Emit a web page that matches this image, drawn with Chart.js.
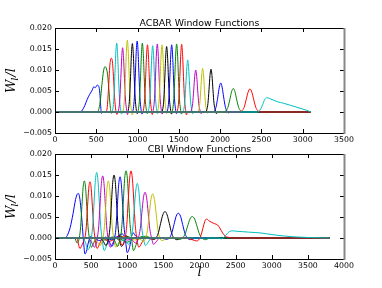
<!DOCTYPE html>
<html><head><meta charset="utf-8">
<script src="https://cdn.jsdelivr.net/npm/chart.js@4.4.0/dist/chart.umd.min.js"></script>
<style>
html,body{margin:0;padding:0;background:#fff;}
#wrap{position:relative;width:382px;height:288px;overflow:hidden;background:#fff;}
canvas{position:absolute;left:0;}
</style></head><body>
<div id="wrap">
<canvas id="top" width="382" height="144" style="top:0px"></canvas>
<canvas id="bot" width="382" height="148" style="top:140px"></canvas>
</div>
<script>
// ---------- data ----------
const lineColors = ['#0000ff','#008000','#ff0000','#00bfbf','#bf00bf','#bfbf00','#000000'];
const acbarTitle = 'ACBAR Window Functions';
const cbiTitle = 'CBI Window Functions';
const acbarXTicks = [0,500,1000,1500,2000,2500,3000,3500];
const cbiXTicks = [0,500,1000,1500,2000,2500,3000,3500,4000];
const yTickValues = [-0.005,0.000,0.005,0.010,0.015,0.020];
const yTickLabels = ['\u22120.005','0.000','0.005','0.010','0.015','0.020'];

// ACBAR window functions: [l, W_l/l] points
const acbarCurves = [
 [[0,0],[300,0],[330,.0004],[360,.0015],[390,.003],[420,.0042],[450,.0052],[470,.006],[490,.0058],[510,.0064],[530,.0061],[543,.0045],[553,.0015],[562,-.0003],[580,0],[3100,0]],
 [[0,0],[510,0],[528,.0005],[548,.0025],[568,.0065],[588,.0098],[605,.0108],[620,.0105],[636,.009],[652,.0055],[668,.0015],[682,-.0003],[700,0],[3100,0]],
 [[0,0],[615,0],[632,.001],[648,.0055],[664,.011],[680,.0128],[694,.0122],[708,.0085],[722,.0035],[736,.0004],[750,-.0006],[765,0],[3100,0]],
 [[0,0],[687,0],[701,.0008],[713,.0033],[725,.0085],[736,.0139],[747,.0164],[758,.0139],[769,.0085],[781,.0033],[793,.0008],[805,-.0005],[819,0],[3100,0]],
 [[0,0],[759,0],[773,.0008],[785,.0031],[797,.008],[808,.013],[819,.0153],[830,.013],[841,.008],[853,.0031],[865,.0008],[877,-.0006],[891,0],[3100,0]],
 [[0,0],[816,0],[830,.0009],[842,.0034],[854,.0089],[865,.0145],[876,.0171],[887,.0145],[898,.0089],[910,.0034],[922,.0009],[934,-.0007],[948,0],[3100,0]],
 [[0,0],[877,0],[891,.0008],[903,.0033],[915,.0085],[926,.0139],[937,.0163],[948,.0139],[959,.0085],[971,.0033],[983,.0008],[995,-.0004],[1009,0],[3100,0]],
 [[0,0],[935,0],[949,.0008],[961,.0034],[973,.0088],[984,.0144],[995,.0169],[1006,.0144],[1017,.0088],[1029,.0034],[1041,.0008],[1053,-.0005],[1067,0],[3100,0]],
 [[0,0],[998,0],[1012,.0008],[1024,.0033],[1036,.0085],[1047,.0139],[1058,.0164],[1069,.0139],[1080,.0085],[1092,.0033],[1104,.0008],[1116,-.0004],[1130,0],[3100,0]],
 [[0,0],[1060,0],[1074,.0008],[1086,.0032],[1098,.0083],[1109,.0136],[1120,.016],[1131,.0136],[1142,.0083],[1154,.0032],[1166,.0008],[1178,-.0006],[1192,0],[3100,0]],
 [[0,0],[1123,0],[1137,.0008],[1149,.0032],[1161,.0082],[1172,.0134],[1183,.0158],[1194,.0134],[1205,.0082],[1217,.0032],[1229,.0008],[1241,-.0004],[1255,0],[3100,0]],
 [[0,0],[1179,0],[1193,.0008],[1205,.0032],[1217,.0084],[1228,.0138],[1239,.0162],[1250,.0138],[1261,.0084],[1273,.0032],[1285,.0008],[1297,-.0005],[1311,0],[3100,0]],
 [[0,0],[1236,0],[1250,.0008],[1262,.0032],[1274,.0083],[1285,.0136],[1296,.016],[1307,.0136],[1318,.0083],[1330,.0032],[1342,.0008],[1354,-.0004],[1368,0],[3100,0]],
 [[0,0],[1292,0],[1306,.0008],[1318,.0031],[1330,.0081],[1341,.0133],[1352,.0156],[1363,.0133],[1374,.0081],[1386,.0031],[1398,.0008],[1410,-.0005],[1424,0],[3100,0]],
 [[0,0],[1353,0],[1367,.0008],[1379,.0032],[1391,.0083],[1402,.0136],[1413,.016],[1424,.0136],[1435,.0083],[1447,.0032],[1459,.0008],[1471,-.0004],[1485,0],[3100,0]],
 [[0,0],[1413,0],[1427,.0008],[1439,.0032],[1451,.0084],[1462,.0138],[1473,.0162],[1484,.0138],[1495,.0084],[1507,.0032],[1519,.0008],[1531,-.0005],[1545,0],[3100,0]],
 [[0,0],[1474,0],[1488,.0008],[1500,.0032],[1512,.0084],[1523,.0137],[1534,.0161],[1545,.0137],[1556,.0084],[1568,.0032],[1580,.0008],[1592,-.0007],[1606,0],[3100,0]],
 [[0,0],[1545,0],[1560,.0006],[1572,.0025],[1584,.0064],[1596,.0105],[1607,.0124],[1618,.0105],[1630,.0064],[1642,.0025],[1655,.0006],[1668,-.0004],[1682,0],[3100,0]],
 [[0,0],[1638,0],[1653,.0005],[1667,.002],[1680,.0052],[1692,.0085],[1704,.01],[1716,.0085],[1728,.0052],[1741,.002],[1755,.0005],[1770,-.0004],[1786,0],[3100,0]],
 [[0,0],[1726,0],[1741,.0005],[1754,.0021],[1766,.0054],[1777,.0088],[1788,.0104],[1799,.0088],[1810,.0054],[1822,.0021],[1835,.0005],[1850,-.0003],[1865,0],[3100,0]],
 [[0,0],[1823,0],[1838,.0005],[1852,.002],[1865,.0053],[1877,.0087],[1889,.0102],[1901,.0087],[1913,.0053],[1926,.002],[1940,.0005],[1955,-.0004],[1971,0],[3100,0]],
 [[0,0],[1912,0],[1934,.0003],[1953,.0014],[1972,.0036],[1990,.0059],[2007,.0069],[2024,.0059],[2042,.0036],[2061,.0014],[2080,.0003],[2102,-.0002],[2120,0],[3100,0]],
 [[0,0],[2044,0],[2071,.0003],[2094,.0011],[2117,.0029],[2138,.0048],[2159,.0056],[2180,.0048],[2201,.0029],[2224,.0011],[2247,.0003],[2274,0],[3100,0]],
 [[0,0],[2236,0],[2265,.0003],[2290,.0011],[2315,.0029],[2338,.0047],[2361,.0055],[2384,.0047],[2407,.0029],[2432,.0011],[2457,.0003],[2486,0],[3100,0]],
 [[0,0],[2450,0],[2480,.0004],[2510,.0015],[2540,.003],[2564,.0034],[2600,.0032],[2650,.0028],[2700,.0024],[2765,.0021],[2850,.0016],[2967,.0009],[3050,.0004],[3100,0]]
];

// CBI window functions: [l, W_l/l] points
const cbiCurves = [
 [[0,0],[130,0],[170,.0006],[210,.0025],[250,.0058],[285,.0092],[310,.0105],[323,.0106],[340,.0098],[360,.0068],[380,.0025],[398,-.0015],[415,-.0038],[435,-.0032],[460,-.0012],[490,.0003],[530,0],[620,-.0006],[700,.0002],[780,-.0004],[860,.0003],[930,.001],[960,.0004],[1000,0],[3800,0]],
 [[0,0],[270,0],[307,-.0012],[338,.0002],[355,.0027],[372,.0075],[389,.012],[406,.0136],[423,.012],[440,.0075],[457,.0027],[474,.0002],[505,-.0022],[540,-.001],[580,.0002],[700,-.0005],[850,.0002],[1000,-.001],[1100,0],[3800,0]],
 [[0,0],[300,0],[345,-.0025],[385,-.0012],[416,.0002],[433,.0027],[450,.0074],[467,.0118],[484,.0134],[501,.0118],[518,.0074],[535,.0027],[552,.0002],[583,-.0025],[620,-.0013],[660,0],[750,-.0008],[900,.0004],[1050,0],[3800,0]],
 [[0,0],[380,0],[420,-.001],[455,-.0028],[490,-.0015],[505,.0002],[523,.0031],[541,.0086],[559,.0137],[577,.0156],[595,.0137],[613,.0086],[631,.0031],[649,.0002],[682,-.003],[720,-.0015],[760,0],[820,.0003],[900,-.0008],[1000,0],[3800,0]],
 [[0,0],[450,0],[500,-.0008],[545,-.0022],[575,-.001],[588,.0002],[606,.003],[624,.0081],[642,.013],[660,.0148],[678,.013],[696,.0081],[714,.003],[732,.0002],[765,-.0022],[800,-.0012],[840,0],[900,.0005],[1000,-.0005],[1100,0],[3800,0]],
 [[0,0],[520,0],[580,-.0008],[625,-.0018],[655,-.0006],[666,.0002],[684,.0027],[702,.0075],[720,.012],[738,.0136],[756,.012],[774,.0075],[792,.0027],[810,.0002],[842,-.0022],[880,-.0012],[915,0],[1000,.0004],[1100,-.0005],[1200,0],[3800,0]],
 [[0,0],[600,0],[660,-.0005],[705,-.0018],[735,-.0006],[745,.0002],[763,.003],[781,.0083],[799,.0132],[817,.015],[835,.0132],[853,.0083],[871,.003],[889,.0002],[921,-.002],[955,-.001],[985,.0005],[1020,.0002],[1100,0],[3800,0]],
 [[0,0],[680,0],[740,-.0005],[790,-.002],[818,-.0006],[828,.0002],[846,.0029],[864,.008],[882,.0128],[900,.0146],[918,.0128],[936,.008],[954,.0029],[972,.0002],[1000,-.0035],[1035,-.002],[1060,.0004],[1085,.0012],[1115,.0005],[1200,0],[3800,0]],
 [[0,0],[760,0],[820,-.0005],[868,-.002],[897,-.0006],[908,.0002],[927,.0032],[946,.0088],[964,.0141],[983,.016],[1002,.0141],[1020,.0088],[1039,.0032],[1058,.0002],[1087,-.003],[1125,-.0015],[1160,0],[1250,.0004],[1350,0],[3800,0]],
 [[0,0],[830,0],[890,-.0005],[935,-.0018],[965,-.0006],[974,.0002],[994,.0032],[1013,.0088],[1033,.0141],[1052,.016],[1071,.0141],[1091,.0088],[1110,.0032],[1130,.0002],[1160,-.0022],[1200,-.0012],[1240,0],[1350,-.0003],[1450,0],[3800,0]],
 [[0,0],[900,0],[970,-.0005],[1020,-.0015],[1048,-.0004],[1057,.0002],[1078,.0026],[1098,.0072],[1119,.0114],[1139,.013],[1159,.0114],[1180,.0072],[1200,.0026],[1221,.0002],[1252,-.0018],[1290,-.001],[1335,0],[3800,0]],
 [[0,0],[1000,0],[1070,-.0005],[1115,-.0012],[1150,-.0003],[1158,.0002],[1180,.0022],[1202,.006],[1224,.0096],[1246,.0109],[1268,.0096],[1290,.006],[1312,.0022],[1334,.0002],[1365,-.0015],[1405,-.0008],[1450,0],[3800,0]],
 [[0,0],[1100,0],[1180,-.0003],[1225,-.0008],[1257,.0001],[1281,.0021],[1305,.0058],[1328,.0092],[1352,.0105],[1376,.0092],[1400,.0058],[1424,.0021],[1447,.0001],[1480,-.0006],[1530,-.0003],[1590,0],[3800,0]],
 [[0,0],[1300,0],[1370,-.0003],[1402,.0001],[1432,.0013],[1462,.0035],[1492,.0055],[1522,.0063],[1552,.0055],[1582,.0035],[1612,.0013],[1642,.0001],[1690,-.0004],[1760,0],[3800,0]],
 [[0,0],[1480,0],[1550,-.0003],[1587,.0001],[1617,.0012],[1647,.0032],[1677,.0052],[1707,.0059],[1737,.0052],[1767,.0032],[1797,.0012],[1827,.0001],[1875,-.0004],[1950,0],[3800,0]],
 [[0,0],[1650,0],[1730,-.0003],[1770,.0001],[1802,.001],[1835,.0028],[1867,.0045],[1900,.0051],[1933,.0045],[1965,.0028],[1998,.001],[2030,.0001],[2080,-.0004],[2150,0],[3800,0]],
 [[0,0],[1800,0],[1900,-.0004],[1960,-.0007],[2000,-.0002],[2030,.0012],[2060,.0032],[2085,.0044],[2100,.0045],[2130,.0041],[2170,.0037],[2210,.0034],[2250,.0031],[2280,.0024],[2320,.0012],[2360,.0004],[2420,.0001],[2500,0],[3800,0]],
 [[0,0],[2250,0],[2300,-.0002],[2340,.0002],[2380,.0010],[2420,.0016],[2460,.0017],[2520,.0016],[2600,.0015],[2680,.0014],[2770,.0013],[2850,.0012],[2930,.001],[3050,.0007],[3160,.0005],[3280,.0003],[3400,.0002],[3550,.0001],[3800,0]]
];

// ---------- chart ----------
const TICK_FONT = {family:'DejaVu Sans', size:7.8};

function framePlugin(title, xTicks, drawXLabel){
  return {
    id:'frame',
    afterDraw(chart){
      const ctx = chart.ctx, a = chart.chartArea;
      const xs = chart.scales.x, ys = chart.scales.y;
      ctx.save();
      ctx.strokeStyle = '#000'; ctx.lineWidth = 1;
      ctx.beginPath();
      xTicks.forEach(v=>{
        const px = Math.round(xs.getPixelForValue(v)) + 0.5;
        ctx.moveTo(px, a.bottom); ctx.lineTo(px, a.bottom-4);
        ctx.moveTo(px, a.top); ctx.lineTo(px, a.top+4);
      });
      yTickValues.forEach(v=>{
        const py = Math.round(ys.getPixelForValue(v)) + 0.5;
        ctx.moveTo(a.left, py); ctx.lineTo(a.left+4, py);
        ctx.moveTo(a.right, py); ctx.lineTo(a.right-4, py);
      });
      ctx.stroke();
      ctx.beginPath();
      ctx.moveTo(a.right, a.top+0.5); ctx.lineTo(a.left+0.5, a.top+0.5);
      ctx.lineTo(a.left+0.5, a.bottom+0.5); ctx.lineTo(a.right, a.bottom+0.5);
      ctx.stroke();
      ctx.strokeStyle = '#888'; ctx.lineWidth = 2;
      ctx.beginPath(); ctx.moveTo(a.right+0.5, a.top); ctx.lineTo(a.right+0.5, a.bottom+1); ctx.stroke();
      ctx.fillStyle = '#000';
      ctx.font = '9.4px "DejaVu Sans"';
      ctx.textAlign = 'center'; ctx.textBaseline = 'alphabetic';
      ctx.fillText(title, (a.left+a.right)/2, a.top-2.5);
      const cy = (a.top+a.bottom)/2;
      ctx.translate(12, cy); ctx.rotate(-Math.PI/2);
      const big = 'italic 13px "DejaVu Serif"', small = 'italic 9px "DejaVu Serif"';
      ctx.font = big; const wW = ctx.measureText('W').width;
      ctx.font = small; const wl = ctx.measureText('l').width;
      ctx.font = big; const wr = ctx.measureText('/l').width;
      let x0 = -(wW+wl+wr)/2;
      ctx.textAlign = 'left'; ctx.textBaseline = 'middle';
      ctx.font = big; ctx.fillText('W', x0, 0);
      ctx.font = small; ctx.fillText('l', x0+wW-1, 3.5);
      ctx.font = big; ctx.fillText('/l', x0+wW+wl, 0);
      ctx.setTransform(1,0,0,1,0,0);
      if(drawXLabel){
        ctx.font = big; ctx.textAlign = 'center'; ctx.textBaseline = 'alphabetic';
        ctx.fillText('l', (a.left+a.right)/2, a.bottom+17);
      }
      ctx.restore();
    }
  };
}

function makeChart(id, curves, xTicks, padTop, xAxisH, title, drawXLabel){
  const n = curves.length;
  const datasets = curves.map((c,i)=>({
    data: c.map(p=>({x:p[0], y:p[1]})),
    borderColor: lineColors[i % lineColors.length],
    borderWidth: 1,
    pointRadius: 0,
    fill: false,
    cubicInterpolationMode: 'monotone',
    order: n - i
  }));
  return new Chart(document.getElementById(id), {
    type: 'line',
    data: {datasets},
    options: {
      responsive: false, animation: false, events: [],
      layout: {padding: {left:0, top:padTop, right:38, bottom:0}},
      plugins: {legend:{display:false}, tooltip:{enabled:false}, title:{display:false}},
      scales: {
        x: {
          type:'linear', min: xTicks[0], max: xTicks[xTicks.length-1],
          grid:{display:false, drawTicks:false}, border:{display:false},
          afterBuildTicks: s => { s.ticks = xTicks.map(v=>({value:v})); },
          afterFit: s => { s.height = xAxisH; },
          ticks:{color:'#000', font:TICK_FONT, padding:2, maxRotation:0, autoSkip:false,
                 callback:(v,i)=>String(xTicks[i])}
        },
        y: {
          type:'linear', min: yTickValues[0], max: yTickValues[yTickValues.length-1],
          grid:{display:false, drawTicks:false}, border:{display:false},
          afterBuildTicks: s => { s.ticks = yTickValues.map(v=>({value:v})); },
          afterFit: s => { s.width = 55; },
          ticks:{color:'#000', font:TICK_FONT, padding:3, autoSkip:false,
                 callback:(v,i)=>yTickLabels[i]}
        }
      }
    },
    plugins: [framePlugin(title, xTicks, drawXLabel)]
  });
}

makeChart('top', acbarCurves, acbarXTicks, 28, 11, acbarTitle, false);
makeChart('bot', cbiCurves, cbiXTicks, 14, 29, cbiTitle, true);
</script>
</body></html>
